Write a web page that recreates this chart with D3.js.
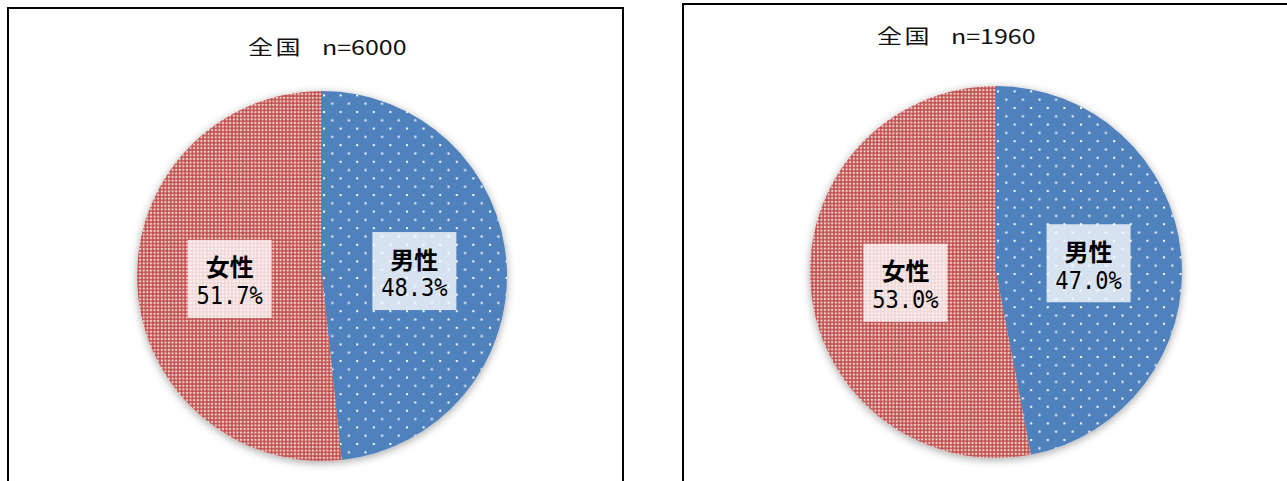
<!DOCTYPE html>
<html>
<head>
<meta charset="utf-8">
<script src="https://cdn.jsdelivr.net/npm/d3@7"></script>
<style>
  html, body { margin: 0; padding: 0; background: #fff; }
  svg { display: block; }
</style>
</head>
<body>
<svg id="chart" width="1287" height="481"></svg>
<script>
// ---- data ----
const regions = ["全国", "全国"];
const sampleSizes = [6000, 1960];
const categories = ["男性", "女性"];
const maleShare = [48.3, 47.0];
const femaleShare = [51.7, 53.0];

// ---- layout / style ----
const panelBoxes = [
  { x: 8, y: 8, w: 615, h: 500 },
  { x: 683, y: 4, w: 650, h: 500 }
];
const pieCenters = [ { cx: 322, cy: 276 }, { cx: 996, cy: 272 } ];
const radii = [185, 186];
const titlePos = [ { x: 248, y: 46 }, { x: 877, y: 35 } ];
const labelShift = [ [ {dx: 0, dy: 0}, {dx: 0, dy: -2} ], [ {dx: 0, dy: 0}, {dx: 2, dy: 2} ] ];
const colors = { "男性": "#4F81BD", "女性": "#C0504D" };

const svg = d3.select("#chart");
const defs = svg.append("defs");

// blue sparse staggered dots
const pb = defs.append("pattern").attr("id", "pat-male").attr("patternUnits", "userSpaceOnUse")
  .attr("width", 16.6).attr("height", 16.6);
pb.append("rect").attr("width", 16.6).attr("height", 16.6).attr("fill", colors["男性"]);
pb.append("rect").attr("x", 1).attr("y", 1).attr("width", 2).attr("height", 2).attr("fill", "#fff");
pb.append("rect").attr("x", 9.3).attr("y", 9.3).attr("width", 2).attr("height", 2).attr("fill", "#fff");

// red dense grid dots
const pr = defs.append("pattern").attr("id", "pat-female").attr("patternUnits", "userSpaceOnUse")
  .attr("width", 3.6).attr("height", 3.6);
pr.append("rect").attr("width", 3.6).attr("height", 3.6).attr("fill", colors["女性"]);
pr.append("rect").attr("x", 0).attr("y", 1).attr("width", 3.6).attr("height", 1.5).attr("fill", "#fff").attr("opacity", 0.14);
pr.append("rect").attr("x", 1).attr("y", 0).attr("width", 1.5).attr("height", 3.6).attr("fill", "#fff").attr("opacity", 0.14);
pr.append("rect").attr("x", 1).attr("y", 1).attr("width", 1.5).attr("height", 1.5).attr("fill", "#fff").attr("opacity", 0.95);

const shadow = defs.append("filter").attr("id", "shadow")
  .attr("x", "-20%").attr("y", "-20%").attr("width", "140%").attr("height", "140%");
shadow.append("feDropShadow").attr("dx", 0).attr("dy", 2).attr("stdDeviation", 4)
  .attr("flood-color", "#000").attr("flood-opacity", 0.35);

const pie = d3.pie().sort(null).value(d => d.value);

regions.forEach((region, i) => {
  const b = panelBoxes[i];
  svg.append("rect").attr("x", b.x).attr("y", b.y).attr("width", b.w).attr("height", b.h)
    .attr("fill", "#fff").attr("stroke", "#000").attr("stroke-width", 2);

  const tg = svg.append("g").attr("transform", `translate(${titlePos[i].x},${titlePos[i].y}) scale(1.25,1)`);
  const tt = tg.append("text").attr("x", 0).attr("y", 0)
    .attr("dominant-baseline", "central")
    .attr("font-family", "'Noto Sans CJK JP', sans-serif").attr("font-size", 20).attr("fill", "#111");
  tt.append("tspan").attr("letter-spacing", 2).text(region);
  tt.append("tspan").attr("x", 59.2).attr("letter-spacing", 0).text("n=" + sampleSizes[i]);

  const data = [
    { cat: categories[0], value: maleShare[i] },
    { cat: categories[1], value: femaleShare[i] }
  ];
  const arcs = pie(data);
  const r = radii[i];
  const arc = d3.arc().innerRadius(0).outerRadius(r);
  const g = svg.append("g").attr("transform", `translate(${pieCenters[i].cx},${pieCenters[i].cy})`);

  g.append("g").attr("filter", "url(#shadow)")
    .selectAll("path").data(arcs).join("path")
    .attr("d", arc)
    .attr("fill", d => d.data.cat === "男性" ? "url(#pat-male)" : "url(#pat-female)");

  arcs.forEach((a, j) => {
    const [x, y] = arc.centroid(a);
    const lx = x + labelShift[i][j].dx, ly = y + labelShift[i][j].dy;
    const lg = g.append("g").attr("transform", `translate(${lx},${ly})`);
    lg.append("rect").attr("x", -42).attr("y", -39).attr("width", 84).attr("height", 78)
      .attr("fill", "#fff").attr("opacity", 0.77);
    lg.append("text").attr("x", 0).attr("y", -13).attr("text-anchor", "middle")
      .attr("dominant-baseline", "central")
      .attr("font-family", "'Noto Sans CJK JP', sans-serif").attr("font-weight", "bold")
      .attr("font-size", 24).attr("fill", "#000").text(a.data.cat);
    lg.append("g").attr("transform", "translate(0,17) scale(0.92,1)")
      .append("text").attr("x", 0).attr("y", 0).attr("text-anchor", "middle")
      .attr("dominant-baseline", "central")
      .attr("font-family", "'DejaVu Sans Mono', monospace")
      .attr("font-size", 24).attr("fill", "#000").text(a.data.value.toFixed(1) + "%");
  });
});
</script>
</body>
</html>
